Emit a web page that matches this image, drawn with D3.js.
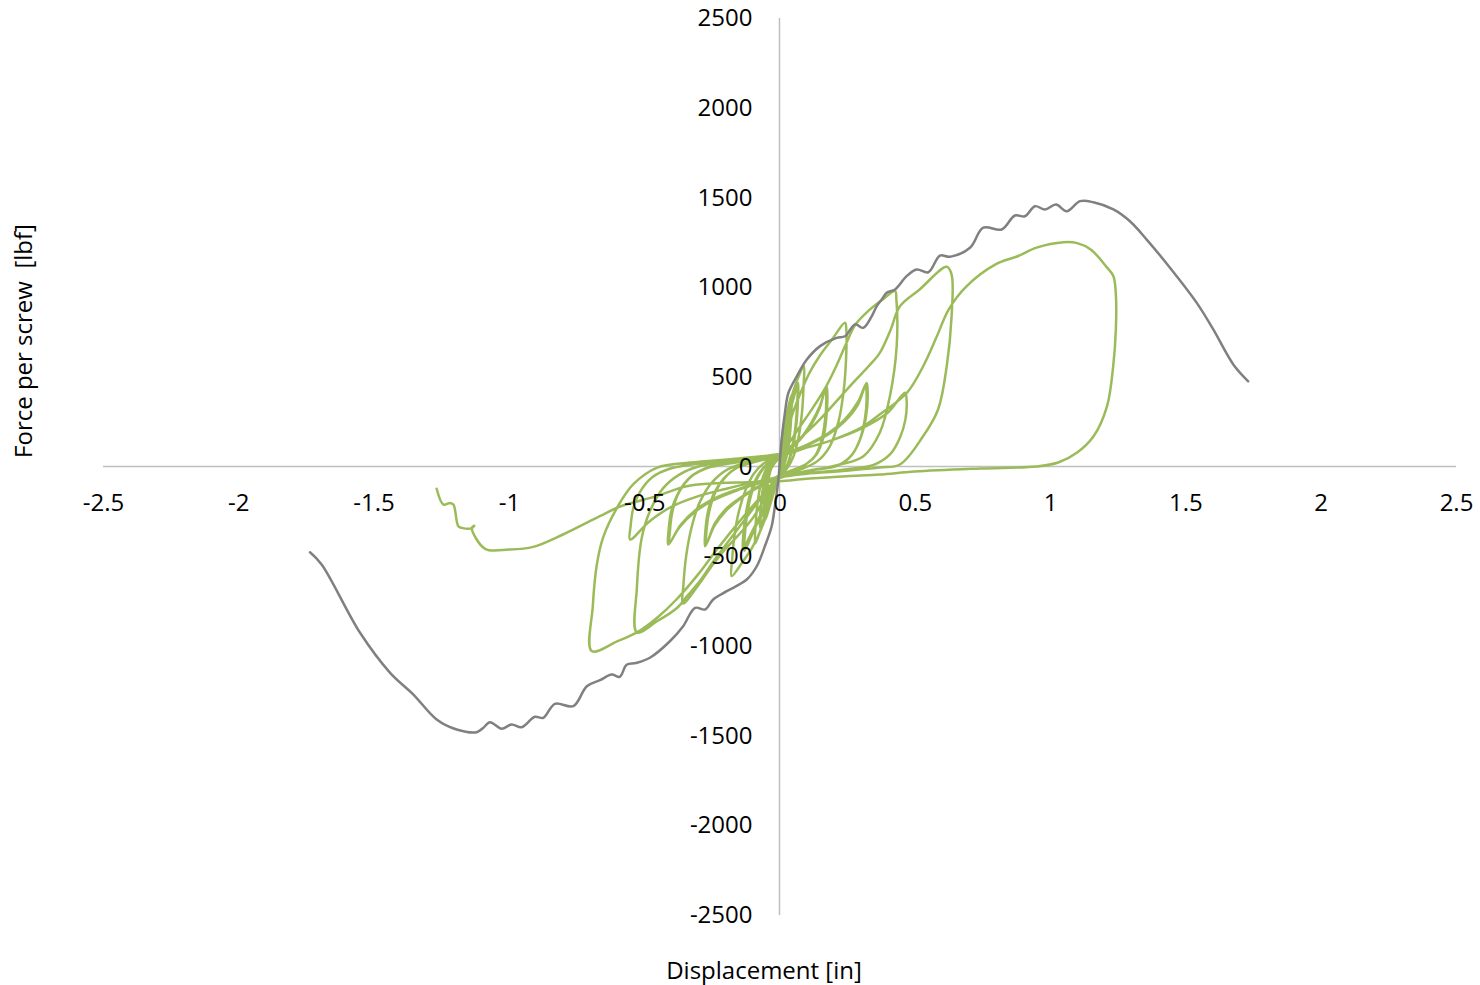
<!DOCTYPE html>
<html lang="en">
<head>
    <meta charset="utf-8">
    <script src="https://cdn.jsdelivr.net/npm/d3@7"></script>
    <style>
        body { margin: 0; background: #fff; }
        text { font-family: "Open Sans", sans-serif; fill: #000; }
        .tick text { font-size: 24px; }
        .title { font-size: 24px; white-space: pre; }
        .series { fill: none; stroke-width: 2.5px; stroke-linejoin: round; stroke-linecap: round; }
    </style>
</head>
<body>
<script>
    // tick values
    const xTicks = [-2.5, -2, -1.5, -1, -0.5, 0, 0.5, 1, 1.5, 2, 2.5];
    const yTicks = [-2500, -2000, -1500, -1000, -500, 0, 500, 1000, 1500, 2000, 2500];

    // monotonic test [displacement in, force lbf]
    const monotonic = [
        [-1.735, -478], [-1.692, -546], [-1.55, -927], [-1.439, -1150], [-1.353, -1271],
        [-1.267, -1410], [-1.193, -1466], [-1.119, -1481], [-1.095, -1457], [-1.07, -1425],
        [-1.027, -1462], [-0.99, -1438], [-0.953, -1453], [-0.904, -1395], [-0.873, -1401],
        [-0.83, -1323], [-0.762, -1336], [-0.712, -1225], [-0.663, -1191], [-0.62, -1160],
        [-0.59, -1172], [-0.565, -1105], [-0.53, -1095], [-0.479, -1066], [-0.405, -974],
        [-0.356, -890], [-0.312, -788], [-0.275, -797], [-0.245, -741], [-0.195, -695],
        [-0.121, -630], [-0.084, -556], [-0.054, -444], [-0.029, -333], [-0.017, -221],
        [-0.004, -72], [0, 0], [0.008, 150], [0.02, 299], [0.033, 411], [0.064, 503],
        [0.101, 596], [0.15, 671], [0.211, 717], [0.242, 726], [0.279, 792], [0.31, 773],
        [0.341, 838], [0.359, 893], [0.378, 931], [0.396, 968], [0.427, 987], [0.47, 1061],
        [0.507, 1098], [0.55, 1083], [0.593, 1176], [0.63, 1169], [0.704, 1219], [0.753, 1331],
        [0.821, 1321], [0.87, 1399], [0.907, 1395], [0.944, 1451], [0.981, 1433], [1.022, 1460],
        [1.061, 1423], [1.111, 1479], [1.16, 1473], [1.234, 1433], [1.295, 1367], [1.357, 1265],
        [1.443, 1108], [1.542, 912], [1.603, 764], [1.677, 569], [1.732, 475]
    ];

    // cyclic test [displacement in, force lbf]
    const cyclic = [
        [0, 0],
        [0.008, 120], [0.016, 220], [0.022, 270], [0.02, 170], [0.014, 60], [0.006, -15], [0, -45],
        [-0.02, -130], [-0.038, -230], [-0.052, -295], [-0.05, -200], [-0.043, -90], [-0.03, -10], [-0.012, 30], [0, 50],
        [0.008, 140], [0.017, 240], [0.024, 290], [0.022, 180], [0.015, 60], [0.006, -20], [0, -50],
        [-0.02, -140], [-0.04, -240], [-0.058, -310], [-0.056, -210], [-0.048, -95], [-0.033, -10], [-0.014, 30], [0, 55],
        [0.01, 150], [0.022, 260], [0.034, 340], [0.045, 400], [0.044, 300], [0.038, 170], [0.027, 60], [0.014, -5], [0, -50],
        [-0.02, -120], [-0.042, -230], [-0.065, -330], [-0.09, -430], [-0.088, -320], [-0.08, -190], [-0.066, -80], [-0.045, -5], [-0.02, 35], [0, 60],
        [0.01, 130], [0.022, 230], [0.035, 320], [0.033, 220], [0.027, 110], [0.017, 20], [0.006, -25], [0, -45],
        [-0.02, -120], [-0.045, -240], [-0.07, -350], [-0.068, -250], [-0.06, -130], [-0.046, -40], [-0.025, 15], [0, 55],
        [0.01, 125], [0.023, 225], [0.036, 310], [0.034, 210], [0.027, 100], [0.016, 15], [0, -45],
        [-0.022, -125], [-0.048, -245], [-0.072, -340], [-0.07, -240], [-0.061, -120], [-0.046, -35], [-0.024, 18], [0, 58],
        [0.012, 150], [0.028, 280], [0.045, 390], [0.065, 480], [0.09, 560], [0.089, 450], [0.083, 300], [0.07, 160], [0.05, 50], [0.028, -10], [0, -55],
        [-0.03, -180], [-0.06, -320], [-0.1, -450], [-0.14, -540], [-0.177, -611], [-0.175, -520], [-0.166, -380], [-0.15, -250], [-0.125, -130], [-0.095, -40], [-0.06, 15], [-0.025, 45], [0, 62],
        [0.012, 140], [0.03, 260], [0.05, 370], [0.069, 466], [0.068, 360], [0.062, 230], [0.05, 110], [0.032, 20], [0.012, -30], [0, -55],
        [-0.03, -150], [-0.06, -250], [-0.09, -340], [-0.11, -410], [-0.13, -470], [-0.128, -380], [-0.12, -270], [-0.105, -160], [-0.08, -60], [-0.05, 5], [-0.02, 40], [0, 58],
        [0.012, 135], [0.03, 255], [0.048, 360], [0.066, 450], [0.065, 340], [0.058, 210], [0.046, 100], [0.03, 15], [0.01, -30], [0, -52],
        [-0.03, -140], [-0.062, -245], [-0.092, -335], [-0.115, -405], [-0.135, -460], [-0.133, -370], [-0.124, -260], [-0.108, -150], [-0.082, -55], [-0.05, 8], [-0.02, 42], [0, 60],
        [0.02, 150], [0.045, 280], [0.075, 400], [0.11, 520], [0.15, 620], [0.195, 710], [0.242, 801], [0.247, 760], [0.246, 600], [0.237, 420], [0.218, 250], [0.185, 110], [0.14, 30], [0.08, -15], [0.03, -40], [0, -58],
        [-0.05, -170], [-0.1, -290], [-0.15, -380], [-0.2, -460], [-0.246, -546], [-0.306, -674], [-0.357, -764], [-0.355, -660], [-0.345, -500], [-0.325, -340], [-0.295, -200], [-0.25, -90], [-0.19, -15], [-0.11, 25], [-0.04, 50], [0, 65],
        [0.03, 90], [0.06, 130], [0.09, 180], [0.12, 250], [0.15, 340], [0.174, 448], [0.177, 390], [0.173, 270], [0.162, 160], [0.138, 70], [0.1, 15], [0.05, -20], [0, -52],
        [-0.05, -95], [-0.1, -135], [-0.15, -185], [-0.2, -250], [-0.24, -330], [-0.275, -444], [-0.274, -360], [-0.264, -250], [-0.242, -150], [-0.205, -65], [-0.155, -5], [-0.08, 30], [0, 62],
        [0.03, 85], [0.06, 125], [0.09, 175], [0.12, 240], [0.148, 325], [0.17, 430], [0.173, 370], [0.168, 255], [0.156, 150], [0.132, 60], [0.095, 10], [0.045, -22], [0, -50],
        [-0.05, -90], [-0.1, -130], [-0.15, -180], [-0.2, -240], [-0.24, -320], [-0.27, -430], [-0.269, -345], [-0.258, -240], [-0.236, -140], [-0.2, -60], [-0.15, 0], [-0.075, 32], [0, 62],
        [0.03, 120], [0.07, 210], [0.12, 320], [0.17, 440], [0.21, 560], [0.245, 680], [0.28, 790], [0.33, 870], [0.38, 930], [0.427, 977], [0.432, 930], [0.433, 670], [0.408, 392], [0.371, 190], [0.309, 56], [0.224, 11], [0.13, -20], [0.05, -45], [0, -60],
        [-0.06, -160], [-0.12, -280], [-0.18, -400], [-0.24, -520], [-0.29, -630], [-0.34, -720], [-0.38, -790], [-0.45, -860], [-0.527, -925], [-0.527, -676], [-0.509, -397], [-0.479, -249], [-0.429, -119], [-0.37, -45], [-0.3, 0], [-0.2, 25], [-0.1, 45], [0, 65],
        [0.06, 95], [0.12, 135], [0.18, 185], [0.24, 260], [0.29, 360], [0.322, 466], [0.326, 400], [0.32, 280], [0.3, 160], [0.27, 70], [0.22, 10], [0.12, -20], [0, -55],
        [-0.08, -95], [-0.16, -135], [-0.24, -185], [-0.31, -250], [-0.37, -340], [-0.411, -435], [-0.41, -360], [-0.4, -250], [-0.375, -150], [-0.33, -60], [-0.27, -10], [-0.15, 25], [0, 60],
        [0.06, 90], [0.12, 130], [0.18, 178], [0.24, 250], [0.29, 345], [0.318, 450], [0.322, 390], [0.316, 270], [0.297, 150], [0.266, 62], [0.215, 5], [0.115, -22], [0, -55],
        [-0.08, -92], [-0.16, -130], [-0.24, -178], [-0.31, -242], [-0.365, -325], [-0.405, -420], [-0.404, -345], [-0.394, -240], [-0.37, -140], [-0.325, -55], [-0.265, -5], [-0.15, 28], [0, 60],
        [0.04, 110], [0.1, 190], [0.16, 280], [0.22, 380], [0.28, 480], [0.33, 560], [0.37, 632], [0.41, 760], [0.445, 893], [0.518, 987], [0.618, 1113], [0.636, 1070], [0.636, 838], [0.618, 559], [0.586, 318], [0.53, 167], [0.445, 11], [0.37, -5], [0.2, -30], [0, -65],
        [-0.07, -170], [-0.15, -310], [-0.23, -460], [-0.3, -600], [-0.38, -740], [-0.45, -840], [-0.527, -925], [-0.6, -975], [-0.694, -1029], [-0.69, -780], [-0.675, -546], [-0.652, -396], [-0.6, -229], [-0.541, -100], [-0.452, -6], [-0.33, 22], [-0.15, 45], [0, 70],
        [0.1, 105], [0.2, 150], [0.3, 210], [0.4, 300], [0.464, 411], [0.47, 360], [0.465, 260], [0.445, 160], [0.41, 70], [0.35, 10], [0.25, -15], [0.1, -40], [0, -60],
        [-0.1, -90], [-0.2, -125], [-0.3, -165], [-0.4, -225], [-0.48, -305], [-0.552, -407], [-0.55, -330], [-0.54, -230], [-0.515, -140], [-0.47, -60], [-0.4, -10], [-0.25, 25], [0, 60],
        [0.1, 105], [0.2, 150], [0.3, 215], [0.37, 290], [0.471, 411], [0.531, 559], [0.58, 720], [0.625, 875], [0.69, 1003], [0.8, 1128], [0.88, 1172], [0.95, 1220], [1.05, 1250], [1.1, 1245], [1.15, 1210], [1.21, 1110], [1.234, 1061], [1.243, 960], [1.243, 764], [1.233, 557], [1.21, 334], [1.16, 167], [1.1, 78], [1.03, 22], [0.95, 0], [0.74, -11], [0.5, -28], [0.37, -45], [0.248, -54], [0.1, -68], [0, -82],
        [-0.12, -88], [-0.25, -95], [-0.343, -110], [-0.454, -165], [-0.589, -223], [-0.664, -277], [-0.8, -379], [-0.91, -448], [-1.0, -463], [-1.088, -459], [-1.137, -342], [-1.128, -330], [-1.14, -345], [-1.174, -342], [-1.187, -333], [-1.205, -212], [-1.218, -203], [-1.242, -212], [-1.267, -124]
    ];

    const width = 1480, height = 985;
    const svg = d3.select("body").append("svg")
        .attr("width", width).attr("height", height);

    const x = d3.scaleLinear().domain([-2.5, 2.5]).range([103, 1456]);
    const y = d3.scaleLinear().domain([-2500, 2500]).range([915, 18]);

    // axis lines through the origin, under the curves
    svg.append("line").attr("x1", x(-2.5)).attr("x2", x(2.5))
        .attr("y1", y(0)).attr("y2", y(0)).attr("stroke", "#bfbfbf").attr("stroke-width", 1.5);
    svg.append("line").attr("x1", x(0)).attr("x2", x(0))
        .attr("y1", y(2500)).attr("y2", y(-2500)).attr("stroke", "#bfbfbf").attr("stroke-width", 1.5);

    const line = d3.line()
        .x(d => x(d[0]))
        .y(d => y(d[1]))
        .curve(d3.curveCatmullRom.alpha(0.5));

    svg.append("path").datum(cyclic).attr("class", "series")
        .attr("stroke", "#9bbb59").attr("d", line);
    svg.append("path").datum(monotonic).attr("class", "series")
        .attr("stroke", "#808080").attr("d", line);

    // tick labels drawn on top
    svg.append("g")
        .attr("transform", "translate(0," + y(0) + ")")
        .call(d3.axisBottom(x).tickValues(xTicks).tickSize(0).tickPadding(27).tickFormat(d => String(d)))
        .call(g => g.select(".domain").remove());
    svg.append("g")
        .attr("transform", "translate(" + x(0) + ",0)")
        .call(d3.axisLeft(y).tickValues(yTicks).tickSize(0).tickPadding(27).tickFormat(d => String(d)))
        .call(g => g.select(".domain").remove());

    svg.append("text").attr("class", "title")
        .attr("xml:space", "preserve")
        .attr("text-anchor", "middle")
        .attr("transform", "translate(32,341) rotate(-90)")
        .text("Force per screw  [lbf]");

    svg.append("text").attr("class", "title")
        .attr("text-anchor", "middle")
        .attr("x", 764).attr("y", 979)
        .text("Displacement [in]");
</script>
</body>
</html>
